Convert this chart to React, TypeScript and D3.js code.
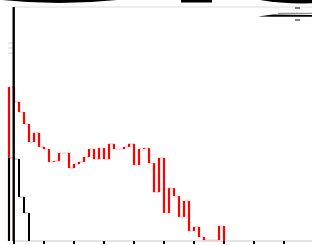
import * as d3 from 'd3';

const W = 312;
const H = 245;

// bin counts (step histogram, bins of width 1 starting at -1)
const redCounts = [
  658, 594, 551, 500, 423, 462, 402, 393, 338, 342, 376, 376, 312, 329, 338,
  359, 393, 350, 397, 350, 415, 393, 393, 402, 415, 325, 393, 397, 333, 209,
  355, 120, 226, 192, 103, 171, 43, 60, 17, 4, 4, 4, 64,
];
const blackCounts = [355, 350, 188, 120];
const binStart = -1;

const xTicks = d3.range(0, 60, 6);
const yMinorTicks = [846, 825, 803];

const x = d3.scaleLinear().domain([0, 60]).range([14, 314]);
const y = d3.scaleLinear().domain([0, 1000]).range([241, 7]);

function Steps({ counts, color, thin, width }: { counts: number[]; color: string; thin: string; width: number }) {
  const edges = d3.range(counts.length + 1).map(k => binStart + k);
  return (
    <g>
      {counts.map((c, i) => (
        <line
          key={'h' + i}
          x1={x(edges[i])}
          x2={x(edges[i + 1])}
          y1={y(c)}
          y2={y(c)}
          stroke={thin}
          strokeWidth={0.8}
        />
      ))}
      {edges.map((e, k) => {
        const prev = k === 0 ? 0 : counts[k - 1];
        const cur = k === counts.length ? 0 : counts[k];
        return (
          <line
            key={'v' + k}
            x1={x(e)}
            x2={x(e)}
            y1={y(prev)}
            y2={y(cur)}
            stroke={color}
            strokeWidth={width}
          />
        );
      })}
    </g>
  );
}

export default function App() {
  const [y0, y1] = y.range();
  return (
    <svg
      width={W}
      height={H}
      style={{ position: 'absolute', left: 0, top: 0, background: '#fff' }}
    >
      {/* clipped title shapes at the top */}
      <path d="M2,0 Q59,6 117,0 Z" fill="#000" />
      <rect x={181} y={0} width={31} height={2.5} fill="#000" />
      <path d="M260,0 Q285,4.5 320,3 L320,0 Z" fill="#000" />

      {/* frame */}
      <line x1={13} x2={W} y1={y1} y2={y1} stroke="#ddd" strokeWidth={1} />
      <line x1={13} x2={W} y1={y0} y2={y0} stroke="#c8c8c8" strokeWidth={1} />
      {yMinorTicks.map(t => (
        <line key={t} x1={8} x2={13} y1={y(t)} y2={y(t)} stroke="#ccc" strokeWidth={0.8} />
      ))}

      <Steps counts={redCounts} color="#ff0000" thin="#ffaaaa" width={2.2} />
      <Steps counts={blackCounts} color="#000" thin="#999" width={2} />

      {/* left spine */}
      <line x1={x(0) - 0.3} x2={x(0) - 0.3} y1={y1} y2={y0} stroke="#000" strokeWidth={2.4} />

      {xTicks.map(t => (
        <line key={t} x1={x(t)} x2={x(t)} y1={y0} y2={y0 + 3} stroke="#000" strokeWidth={2} />
      ))}

      {/* legend remnants */}
      <g>
        <line x1={295} x2={300} y1={8} y2={8} stroke="#000" strokeWidth={1} />
        <line x1={295} x2={300} y1={20} y2={20} stroke="#000" strokeWidth={1} />
        <line x1={278} x2={W} y1={13.3} y2={13.3} stroke="#555" strokeWidth={0.8} />
        <polygon points="258,16.6 273,14.6 312,14.9 312,16.8 273,16.8" fill="#000" />
      </g>
    </svg>
  );
}
